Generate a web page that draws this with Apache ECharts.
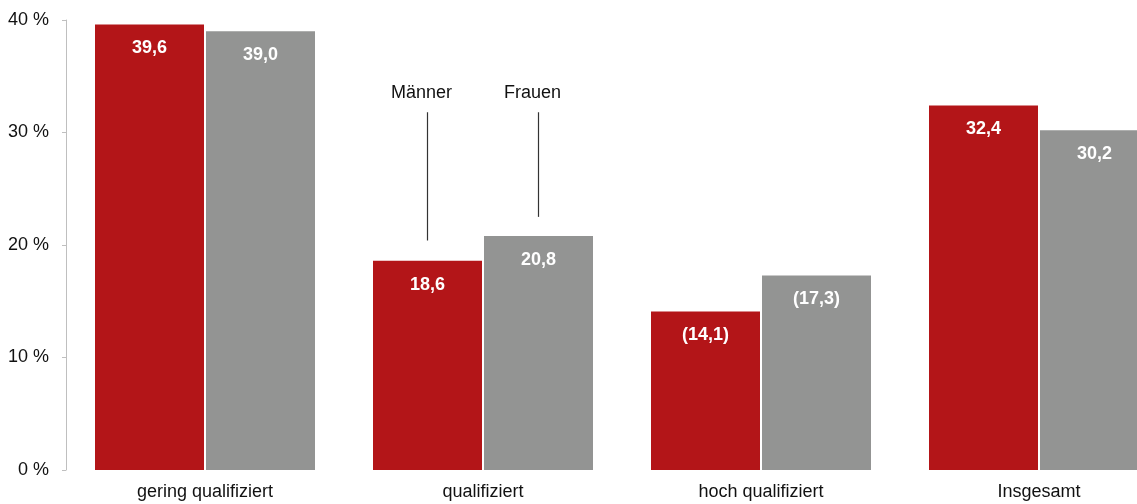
<!DOCTYPE html>
<html>
<head>
<meta charset="utf-8">
<script src="https://cdn.jsdelivr.net/npm/echarts@6/dist/echarts.min.js"></script>
<style>
html,body{margin:0;padding:0;background:#fff;}
#main{width:1137px;height:504px;}
</style>
</head>
<body>
<div id="main"></div>
<script>
const categories = ['gering qualifiziert', 'qualifiziert', 'hoch qualifiziert', 'Insgesamt'];
const maenner = [39.6, 18.6, 14.1, 32.4];
const frauen = [39.0, 20.8, 17.3, 30.2];
const uncertain = [false, false, true, false];
const yTicks = [0, 10, 20, 30, 40];
const seriesNames = ['Männer', 'Frauen'];
// annotation: label y value, line top value, line bottom value
const annotCategory = 'qualifiziert';
const annotMaenner = [33.5, 31.8, 20.4];
const annotFrauen = [33.5, 31.8, 22.5];

const FONT = '"Liberation Sans", Arial, sans-serif';
const BAR_W = 109, BAR_GAP = 2;

function fmt(v, i) {
  const s = v.toFixed(1).replace('.', ',');
  return uncertain[i] ? '(' + s + ')' : s;
}

const chart = echarts.init(document.getElementById('main'));
const labelCfg = {
  show: true, position: 'insideTop', distance: 15,
  color: '#fff', fontWeight: 'bold', fontSize: 18, fontFamily: FONT,
  formatter: p => fmt(p.value, p.dataIndex)
};
chart.setOption({
  animation: false,
  grid: { left: 66, top: 20, right: -41, bottom: 34, outerBoundsMode: 'none', containLabel: false },
  xAxis: {
    type: 'category', data: categories,
    axisLine: { show: false }, axisTick: { show: false },
    axisLabel: { fontSize: 18, color: '#111', fontFamily: FONT, margin: 13 }
  },
  yAxis: {
    type: 'value', min: 0, max: 40, interval: 10,
    axisLine: { show: true, lineStyle: { color: '#bfbfbf' } },
    axisTick: { show: true, length: 4, lineStyle: { color: '#bfbfbf' } },
    splitLine: { show: false },
    axisLabel: { fontSize: 18, color: '#111', fontFamily: FONT, margin: 17,
      formatter: v => yTicks.includes(v) ? v + ' %' : '' }
  },
  series: [
    { name: seriesNames[0], type: 'bar', data: maenner, barWidth: BAR_W, barGap: (BAR_GAP / BAR_W * 100) + '%',
      itemStyle: { color: '#B31518' }, label: labelCfg },
    { name: seriesNames[1], type: 'bar', data: frauen, barWidth: BAR_W,
      itemStyle: { color: '#939493' }, label: labelCfg }
  ]
});

function annot(name, vals, dx) {
  const c = chart.convertToPixel({ gridIndex: 0 }, [annotCategory, vals[0]]);
  const top = chart.convertToPixel({ gridIndex: 0 }, [annotCategory, vals[1]]);
  const bot = chart.convertToPixel({ gridIndex: 0 }, [annotCategory, vals[2]]);
  const x = c[0] + dx;
  return [
    { type: 'text', x: x - 6, y: c[1], style: { text: name, fill: '#111', font: '18px ' + FONT, textAlign: 'center', textVerticalAlign: 'middle' } },
    { type: 'line', shape: { x1: x, y1: top[1], x2: x, y2: bot[1] }, style: { stroke: '#333', lineWidth: 1.2 } }
  ];
}
const off = (BAR_W + BAR_GAP) / 2;
chart.setOption({ graphic: [].concat(annot(seriesNames[0], annotMaenner, -off), annot(seriesNames[1], annotFrauen, off)) });
</script>
</body>
</html>
